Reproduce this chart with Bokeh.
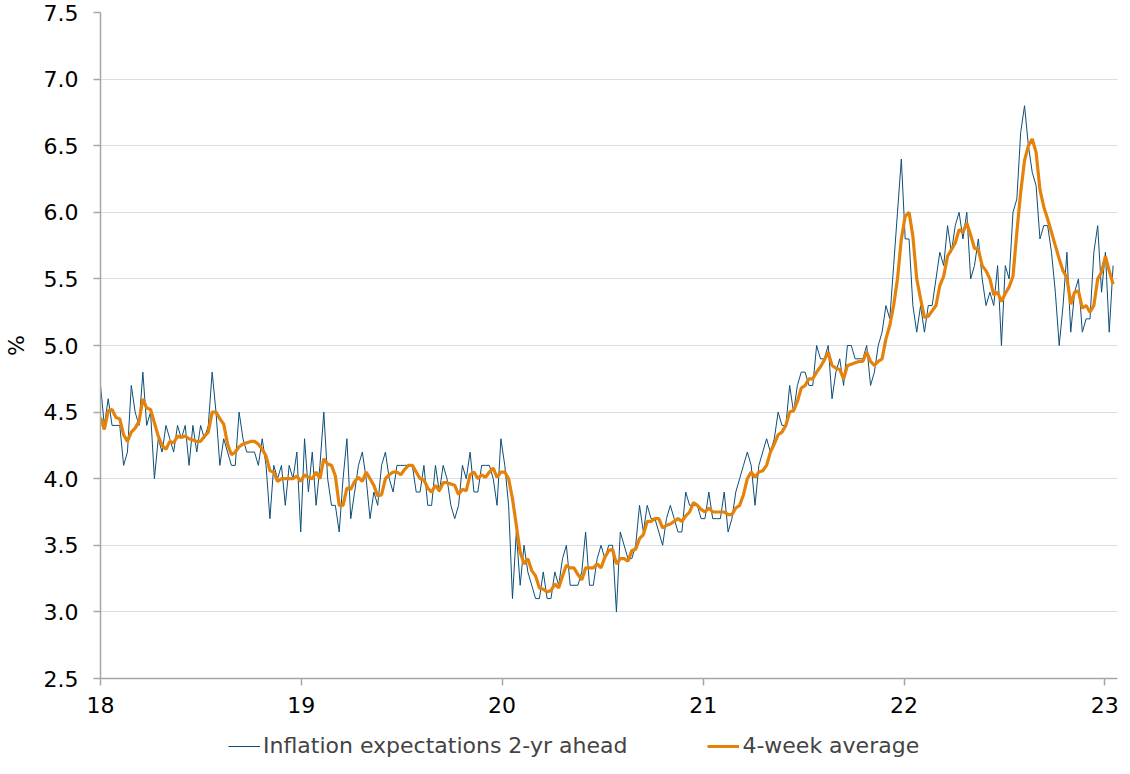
import pandas as pd
from datetime import datetime
from bokeh.plotting import figure
from bokeh.layouts import column
from bokeh.models import (Range1d, FixedTicker, NumeralTickFormatter, DatetimeTickFormatter,
                          Legend, LegendItem, ColumnDataSource)
from bokeh.embed import file_html
from bokeh.resources import INLINE

# Weekly survey values (%), from the first week of 2018
expectations = [
    4.7, 4.4, 4.6, 4.4, 4.4, 4.4, 4.1, 4.2, 4.7, 4.5, 4.4, 4.8, 4.4, 4.5, 4.0, 4.3, 4.2, 4.4, 4.3, 4.2,
    4.4, 4.3, 4.4, 4.1, 4.4, 4.2, 4.4, 4.3, 4.4, 4.8, 4.5, 4.1, 4.3, 4.2, 4.1, 4.1, 4.5, 4.3, 4.2, 4.2,
    4.2, 4.1, 4.3, 4.1, 3.7, 4.1, 4.0, 4.1, 3.8, 4.1, 4.0, 4.2, 3.6, 4.3, 3.9, 4.2, 3.8, 4.1, 4.5, 4.0,
    3.8, 3.8, 3.6, 4.0, 4.3, 3.7, 3.9, 4.1, 4.2, 4.0, 3.7, 3.9, 3.8, 4.1, 4.2, 4.0, 3.9, 4.1, 4.1, 4.1,
    4.1, 4.1, 3.9, 3.9, 4.1, 3.8, 3.8, 4.1, 3.9, 4.1, 4.0, 3.8, 3.7, 3.8, 4.1, 4.0, 4.2, 3.9, 3.9, 4.1,
    4.1, 4.1, 4.0, 3.8, 4.3, 4.1, 3.8, 3.1, 3.6, 3.2, 3.5, 3.3, 3.2, 3.1, 3.1, 3.3, 3.1, 3.1, 3.3, 3.2,
    3.4, 3.5, 3.2, 3.2, 3.2, 3.3, 3.6, 3.2, 3.2, 3.4, 3.5, 3.4, 3.5, 3.5, 3.0, 3.6, 3.5, 3.4, 3.4, 3.5,
    3.8, 3.6, 3.8, 3.7, 3.7, 3.6, 3.5, 3.7, 3.8, 3.7, 3.6, 3.6, 3.9, 3.8, 3.8, 3.8, 3.7, 3.7, 3.9, 3.7,
    3.7, 3.7, 3.9, 3.6, 3.7, 3.9, 4.0, 4.1, 4.2, 4.1, 3.8, 4.1, 4.2, 4.3, 4.2, 4.3, 4.5, 4.4, 4.4, 4.7,
    4.5, 4.7, 4.8, 4.8, 4.7, 4.7, 5.0, 4.9, 4.9, 5.0, 4.6, 4.8, 4.9, 4.7, 5.0, 5.0, 4.9, 4.9, 4.9, 5.0,
    4.7, 4.8, 5.0, 5.1, 5.3, 5.2, 5.6, 6.0, 6.4, 5.8, 5.8, 5.3, 5.1, 5.3, 5.1, 5.3, 5.3, 5.5, 5.7, 5.6,
    5.9, 5.7, 5.9, 6.0, 5.8, 6.0, 5.5, 5.6, 5.8, 5.5, 5.3, 5.4, 5.3, 5.6, 5.0, 5.6, 5.5, 6.0, 6.1, 6.6,
    6.8, 6.5, 6.3, 6.2, 5.8, 5.9, 5.9, 5.7, 5.4, 5.0, 5.3, 5.7, 5.1, 5.4, 5.5, 5.1, 5.2, 5.2, 5.7, 5.9,
    5.4, 5.7, 5.1, 5.6,
]

four_week_avg = [
    4.46, 4.37, 4.51, 4.52, 4.46, 4.45, 4.33, 4.28, 4.35, 4.38, 4.43, 4.60, 4.53, 4.52, 4.42, 4.32, 4.25, 4.22, 4.28, 4.27,
    4.32, 4.31, 4.32, 4.30, 4.29, 4.28, 4.28, 4.32, 4.35, 4.50, 4.50, 4.45, 4.41, 4.26, 4.18, 4.20, 4.24, 4.26, 4.27, 4.28,
    4.28, 4.26, 4.22, 4.17, 4.06, 4.05, 3.98, 4.00, 4.00, 4.00, 4.00, 4.02, 3.98, 4.03, 4.01, 4.00, 4.05, 4.00, 4.15, 4.11,
    4.10, 4.02, 3.80, 3.80, 3.93, 3.92, 3.98, 4.01, 3.98, 4.05, 4.00, 3.95, 3.87, 3.88, 4.00, 4.03, 4.05, 4.05, 4.03, 4.07,
    4.10, 4.10, 4.05, 4.00, 3.99, 3.93, 3.90, 3.95, 3.91, 3.97, 3.97, 3.96, 3.95, 3.88, 3.92, 3.91, 4.03, 4.05, 4.00, 4.03,
    4.01, 4.05, 4.08, 4.01, 4.05, 4.05, 4.00, 3.85, 3.65, 3.45, 3.36, 3.40, 3.31, 3.27, 3.18, 3.17, 3.15, 3.16, 3.21, 3.18,
    3.27, 3.35, 3.33, 3.33, 3.28, 3.24, 3.33, 3.33, 3.33, 3.36, 3.33, 3.41, 3.46, 3.47, 3.36, 3.40, 3.40, 3.38, 3.46, 3.47,
    3.55, 3.58, 3.68, 3.68, 3.70, 3.70, 3.63, 3.65, 3.66, 3.68, 3.70, 3.68, 3.72, 3.75, 3.82, 3.80, 3.77, 3.75, 3.78, 3.75,
    3.75, 3.75, 3.75, 3.73, 3.73, 3.78, 3.80, 3.88, 4.00, 4.05, 4.01, 4.05, 4.06, 4.10, 4.20, 4.26, 4.33, 4.35, 4.40, 4.50,
    4.51, 4.58, 4.68, 4.70, 4.75, 4.75, 4.80, 4.84, 4.89, 4.95, 4.85, 4.83, 4.82, 4.75, 4.85, 4.86, 4.87, 4.88, 4.88, 4.95,
    4.88, 4.85, 4.88, 4.90, 5.05, 5.15, 5.30, 5.50, 5.80, 5.97, 6.00, 5.82, 5.50, 5.35, 5.21, 5.22, 5.26, 5.30, 5.45, 5.52,
    5.67, 5.72, 5.77, 5.87, 5.85, 5.92, 5.83, 5.73, 5.72, 5.60, 5.56, 5.50, 5.38, 5.40, 5.33, 5.39, 5.44, 5.52, 5.85, 6.15,
    6.39, 6.50, 6.55, 6.45, 6.17, 6.04, 5.95, 5.85, 5.75, 5.65, 5.56, 5.51, 5.31, 5.40, 5.41, 5.28, 5.30, 5.25, 5.30, 5.50,
    5.55, 5.67, 5.56, 5.46,
]

first_week = "2018-01-01"
year_ticks = [2018, 2019, 2020, 2021, 2022, 2023]
y_ticks = [2.5, 3.0, 3.5, 4.0, 4.5, 5.0, 5.5, 6.0, 6.5, 7.0, 7.5]
series_names = ["Inflation expectations 2-yr ahead", "4-week average"]

dates = pd.date_range(first_week, periods=len(expectations), freq="7D")
src = ColumnDataSource(dict(date=dates, expect=expectations, avg=four_week_avg))

FONT = "DejaVu Sans"
AXIS_COL = "#a6a6a6"
BLUE = "#0d4e78"
ORANGE = "#e5820a"

p = figure(frame_width=1017, frame_height=666, output_backend="svg", toolbar_location=None,
           x_axis_type="datetime",
           x_range=Range1d(datetime(2018, 1, 1), datetime(2023, 1, 24)),
           y_range=Range1d(2.5, 7.5),
           min_border_left=95, min_border_right=2, min_border_top=12, min_border_bottom=44)

p.outline_line_color = None
p.background_fill_color = "white"
p.border_fill_color = "white"
p.xgrid.visible = False
p.ygrid.grid_line_color = "#aebccb"
p.ygrid.grid_line_dash = "1 1"
p.ygrid.grid_line_width = 1

tick_ms = [pd.Timestamp(f"{y}-01-01").value // 10**6 for y in year_ticks]
p.xaxis.ticker = FixedTicker(ticks=tick_ms)
p.xaxis.formatter = DatetimeTickFormatter(days="%y", months="%y", years="%y", hours="%y",
                                          hourmin="%y", minutes="%y", minsec="%y", seconds="%y",
                                          milliseconds="%y", microseconds="%y")
p.yaxis.ticker = FixedTicker(ticks=y_ticks)
p.yaxis.formatter = NumeralTickFormatter(format="0.0")
p.yaxis.axis_label = "%"

for ax in (p.xaxis, p.yaxis):
    ax.axis_line_color = AXIS_COL
    ax.axis_line_width = 1.5
    ax.major_tick_line_color = AXIS_COL
    ax.major_tick_line_width = 1.5
    ax.major_tick_out = 7
    ax.major_tick_in = 0
    ax.minor_tick_line_color = None
    ax.major_label_text_font = FONT
    ax.major_label_text_font_size = "22px"
    ax.major_label_text_color = "#000000"
    ax.axis_label_text_font = FONT
    ax.axis_label_text_font_size = "22px"
    ax.axis_label_text_font_style = "normal"
    ax.axis_label_text_color = "#000000"

p.xaxis.major_label_standoff = 11
p.yaxis.major_label_standoff = 15
p.yaxis.axis_label_standoff = 12

p.line("date", "expect", source=src, line_color=BLUE, line_width=1)
p.line("date", "avg", source=src, line_color=ORANGE, line_width=3.2)

# Legend strip below the chart (key renderers sit outside its visible range)
lg = figure(width=1114, height=36, output_backend="svg", toolbar_location=None,
            x_range=Range1d(0, 1), y_range=Range1d(0, 1),
            x_axis_location=None, y_axis_location=None,
            min_border=0, outline_line_color=None)
lg.xgrid.visible = False
lg.ygrid.visible = False
key_src = ColumnDataSource(dict(x=[5, 6], y=[5, 5]))
k1 = lg.line("x", "y", source=key_src, line_color=BLUE, line_width=1)
k2 = lg.line("x", "y", source=key_src, line_color=ORANGE, line_width=3.2)
legend = Legend(items=[LegendItem(label=series_names[0], renderers=[k1]),
                       LegendItem(label=series_names[1], renderers=[k2])],
                orientation="horizontal", location=(128, 0),
                border_line_color=None, background_fill_alpha=0,
                label_text_font=FONT, label_text_font_size="22px",
                glyph_width=32, label_standoff=3, spacing=80,
                margin=0, padding=0)
lg.add_layout(legend, "center")

page = column(p, lg, spacing=0)
open("out.html", "w").write(file_html(page, INLINE))
